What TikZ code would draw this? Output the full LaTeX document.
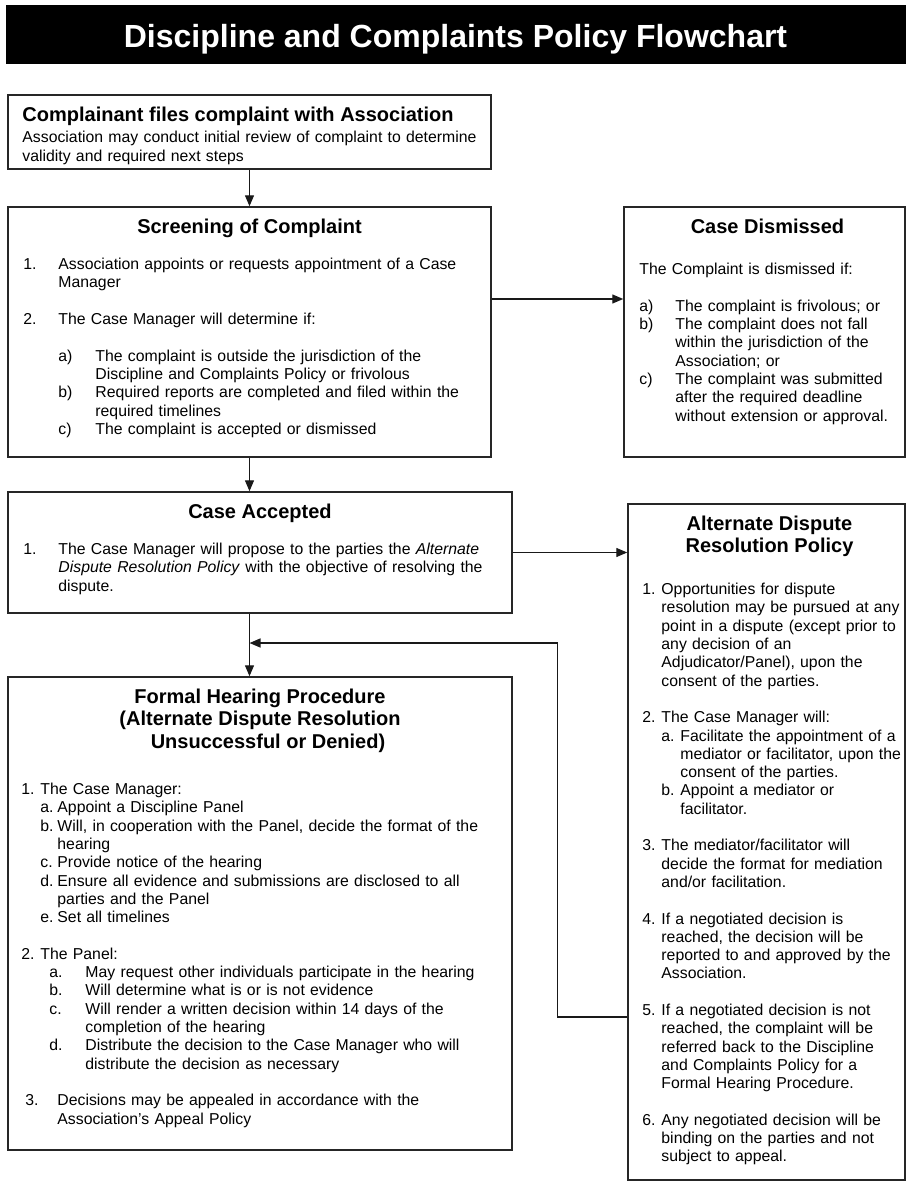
\documentclass[tikz,border=0pt]{standalone}
\usepackage{fontspec}
\setmainfont{Liberation Sans}
\usetikzlibrary{arrows.meta,positioning}
% put a piece of text at a fixed indent within its line
\newcommand{\tx}[2]{\makebox[0pt][l]{\hspace*{#1}#2}}
\tikzset{
    %Define standard arrow tip
    >={Triangle[length=11pt,width=9pt]},
    %Define style for boxes
    frame/.style={
        rectangle,
        draw=black!85, line width=1.5pt,
        inner sep=0pt},
    banner/.style={
        rectangle, fill=black, draw=black,
        inner sep=0pt, text=white,
        minimum width=899pt, minimum height=58pt,
        text height=26pt, text depth=0pt,
        font=\fontsize{32}{36}\selectfont\bfseries},
    % Define text styles
    head/.style={
        anchor=north, inner sep=0pt, align=center,
        font=\fontsize{20}{22.5}\selectfont\bfseries},
    body/.style={
        anchor=north west, inner sep=0pt,
        text width=#1, align=left,
        font=\fontsize{15.8}{18.3}\selectfont},
    body/.default=240pt,
    % Define arrow style
    flow/.style={
        ->,
        draw=black!90, line width=1.4pt}
}
\begin{document}
\begin{tikzpicture}[x=1pt,y=-1pt]
    \useasboundingbox (0,0) rectangle (908,1186);
    %banner
    \node[banner] (banner) at (455.5,34) {Discipline and Complaints Policy Flowchart};
    %boxes
    \node[frame, minimum width=483pt, minimum height=74pt] (file) at (249.5,132) {};
    \node[frame, minimum width=483pt, minimum height=250pt] (screen) at (249.5,332) {};
    \node[frame, minimum width=281pt, minimum height=250pt] (dismiss) at (764.5,332) {};
    \node[frame, minimum width=504pt, minimum height=121pt] (accept) at (260,552.5) {};
    \node[frame, minimum width=277pt, minimum height=676pt] (adr) at (766.5,842) {};
    \node[frame, minimum width=504pt, minimum height=473pt] (formal) at (260,913.5) {};
    \coordinate (merge) at (249.5,643);

    % complaint filed
    \node[head, anchor=north west] (file-head) at ([xshift=15pt,yshift=-11.25pt]file.north west)
        {\strut Complainant files complaint with Association};
    \node[body=465pt] (file-body) at ([xshift=15pt,yshift=-35.7pt]file.north west)
        {\strut Association may conduct initial review of complaint to determine\\
         validity and required next steps};

    % screening
    \node[head] (screen-head) at ([yshift=-11.25pt]screen.north) {\strut Screening of Complaint};
    \node[body=450pt] (screen-body) at ([xshift=16pt,yshift=-50.4pt]screen.north west)
        {\strut\tx{0pt}{1.}\tx{35pt}{Association appoints or requests appointment of a Case}\\
         \tx{35pt}{Manager}\\
         \mbox{}\\
         \tx{0pt}{2.}\tx{35pt}{The Case Manager will determine if:}\\
         \mbox{}\\
         \tx{35pt}{a)}\tx{72pt}{The complaint is outside the jurisdiction of the}\\
         \tx{72pt}{Discipline and Complaints Policy or frivolous}\\
         \tx{35pt}{b)}\tx{72pt}{Required reports are completed and filed within the}\\
         \tx{72pt}{required timelines}\\
         \tx{35pt}{c)}\tx{72pt}{The complaint is accepted or dismissed}};

    % dismissed
    \node[head] (dismiss-head) at ([xshift=3pt,yshift=-11.25pt]dismiss.north) {\strut Case Dismissed};
    \node[body=255pt] (dismiss-body) at ([xshift=16pt,yshift=-55.4pt]dismiss.north west)
        {\strut\tx{0pt}{The Complaint is dismissed if:}\\
         \mbox{}\\
         \tx{0pt}{a)}\tx{36pt}{The complaint is frivolous; or}\\
         \tx{0pt}{b)}\tx{36pt}{The complaint does not fall}\\
         \tx{36pt}{within the jurisdiction of the}\\
         \tx{36pt}{Association; or}\\
         \tx{0pt}{c)}\tx{36pt}{The complaint was submitted}\\
         \tx{36pt}{after the required deadline}\\
         \tx{36pt}{without extension or approval.}};

    % accepted
    \node[head] (accept-head) at ([yshift=-11.25pt]accept.north) {\strut Case Accepted};
    \node[body=470pt] (accept-body) at ([xshift=16pt,yshift=-50.4pt]accept.north west)
        {\strut\tx{0pt}{1.}\tx{35pt}{The Case Manager will propose to the parties the \textit{Alternate}}\\
         \tx{35pt}{\textit{Dispute Resolution Policy} with the objective of resolving the}\\
         \tx{35pt}{dispute.}};

    % alternate dispute resolution
    \node[head] (adr-head) at ([xshift=3pt,yshift=-11.25pt]adr.north)
        {\strut Alternate Dispute\\Resolution Policy};
    \node[body=255pt] (adr-body) at ([xshift=15pt,yshift=-78.4pt]adr.north west)
        {\strut\tx{0pt}{1.}\tx{19pt}{Opportunities for dispute}\\
         \tx{19pt}{resolution may be pursued at any}\\
         \tx{19pt}{point in a dispute (except prior to}\\
         \tx{19pt}{any decision of an}\\
         \tx{19pt}{Adjudicator/Panel), upon the}\\
         \tx{19pt}{consent of the parties.}\\
         \mbox{}\\
         \tx{0pt}{2.}\tx{19pt}{The Case Manager will:}\\
         \tx{19pt}{a.}\tx{38pt}{Facilitate the appointment of a}\\
         \tx{38pt}{mediator or facilitator, upon the}\\
         \tx{38pt}{consent of the parties.}\\
         \tx{19pt}{b.}\tx{38pt}{Appoint a mediator or}\\
         \tx{38pt}{facilitator.}\\
         \mbox{}\\
         \tx{0pt}{3.}\tx{19pt}{The mediator/facilitator will}\\
         \tx{19pt}{decide the format for mediation}\\
         \tx{19pt}{and/or facilitation.}\\
         \mbox{}\\
         \tx{0pt}{4.}\tx{19pt}{If a negotiated decision is}\\
         \tx{19pt}{reached, the decision will be}\\
         \tx{19pt}{reported to and approved by the}\\
         \tx{19pt}{Association.}\\
         \mbox{}\\
         \tx{0pt}{5.}\tx{19pt}{If a negotiated decision is not}\\
         \tx{19pt}{reached, the complaint will be}\\
         \tx{19pt}{referred back to the Discipline}\\
         \tx{19pt}{and Complaints Policy for a}\\
         \tx{19pt}{Formal Hearing Procedure.}\\
         \mbox{}\\
         \tx{0pt}{6.}\tx{19pt}{Any negotiated decision will be}\\
         \tx{19pt}{binding on the parties and not}\\
         \tx{19pt}{subject to appeal.}};

    % formal hearing
    \node[head] (formal-head) at ([yshift=-11.25pt]formal.north)
        {\strut Formal Hearing Procedure\\(Alternate Dispute Resolution\\\hspace*{16pt}Unsuccessful or Denied)};
    \node[body=475pt] (formal-body) at ([xshift=14pt,yshift=-105.4pt]formal.north west)
        {\strut\tx{0pt}{1.}\tx{19pt}{The Case Manager:}\\
         \tx{19pt}{a.}\tx{36pt}{Appoint a Discipline Panel}\\
         \tx{19pt}{b.}\tx{36pt}{Will, in cooperation with the Panel, decide the format of the}\\
         \tx{36pt}{hearing}\\
         \tx{19pt}{c.}\tx{36pt}{Provide notice of the hearing}\\
         \tx{19pt}{d.}\tx{36pt}{Ensure all evidence and submissions are disclosed to all}\\
         \tx{36pt}{parties and the Panel}\\
         \tx{19pt}{e.}\tx{36pt}{Set all timelines}\\
         \mbox{}\\
         \tx{0pt}{2.}\tx{19pt}{The Panel:}\\
         \tx{28pt}{a.}\tx{64pt}{May request other individuals participate in the hearing}\\
         \tx{28pt}{b.}\tx{64pt}{Will determine what is or is not evidence}\\
         \tx{28pt}{c.}\tx{64pt}{Will render a written decision within 14 days of the}\\
         \tx{64pt}{completion of the hearing}\\
         \tx{28pt}{d.}\tx{64pt}{Distribute the decision to the Case Manager who will}\\
         \tx{64pt}{distribute the decision as necessary}\\
         \mbox{}\\
         \tx{4pt}{3.}\tx{36pt}{Decisions may be appealed in accordance with the}\\
         \tx{36pt}{Association's Appeal Policy}};

    %connectors
    \draw[flow] (file.south) -- (screen.north);
    \draw[flow] ([yshift=33pt]screen.east) -- ([yshift=33pt]screen.east -| dismiss.west);
    \draw[flow] (screen.south) -- (screen.south |- accept.north);
    \draw[flow] (accept.east) -- (accept.east -| adr.west);
    \draw[flow] (accept.south -| screen.south) -- (screen.south |- formal.north);
    \draw[flow] ([yshift=-175pt]adr.west) -- ++(-70,0) |- (merge);
\end{tikzpicture}
\end{document}
